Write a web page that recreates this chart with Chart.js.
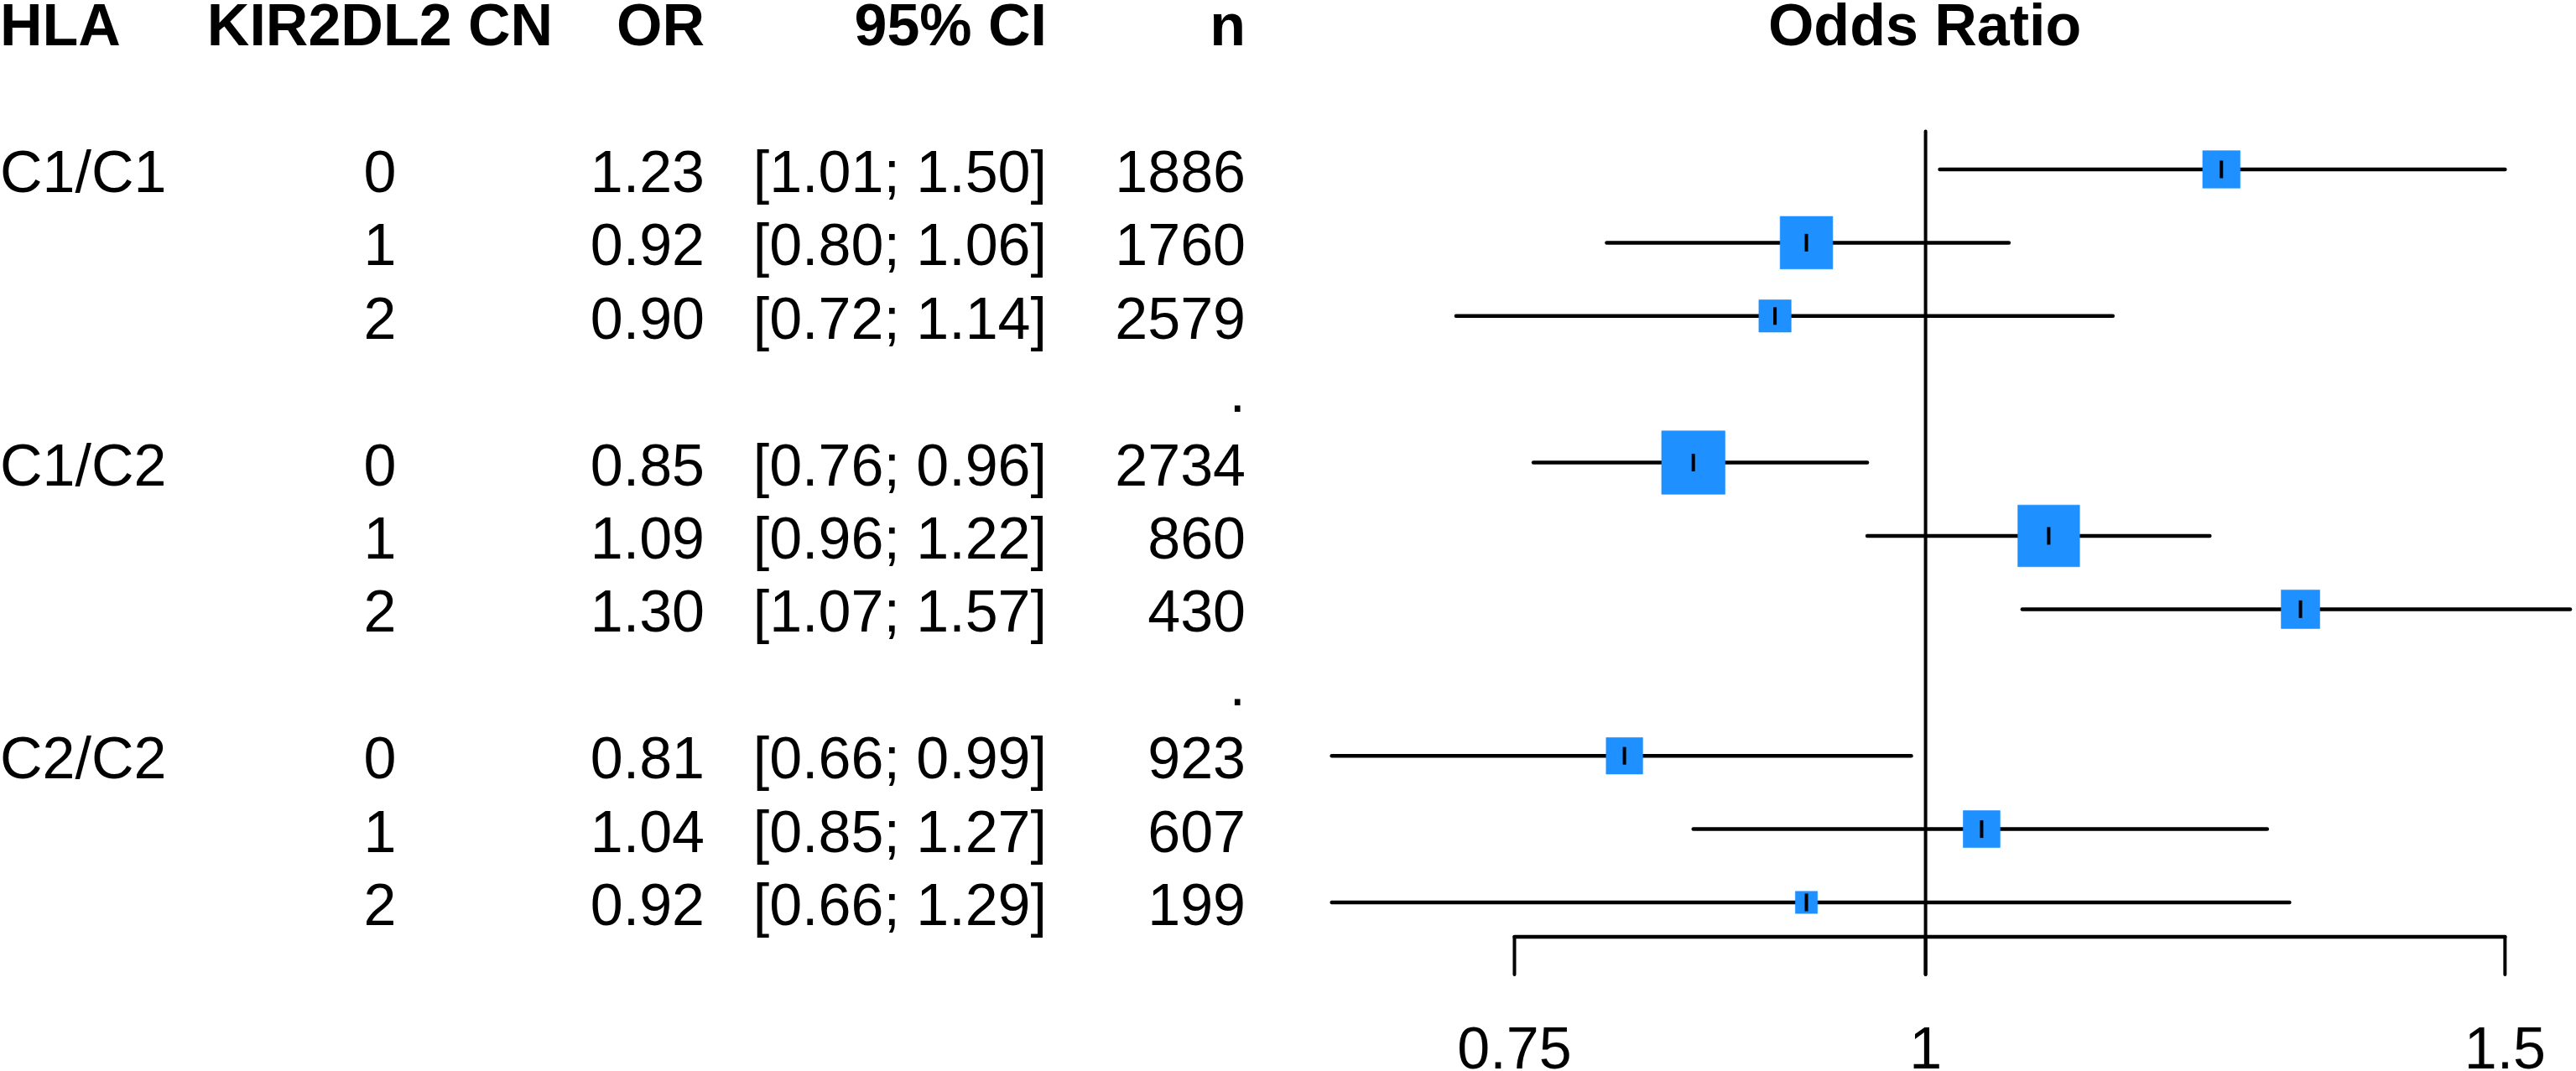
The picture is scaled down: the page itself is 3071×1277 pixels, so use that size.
<!DOCTYPE html>
<html><head><meta charset="utf-8">
<script src="https://cdn.jsdelivr.net/npm/chart.js@4.4.1/dist/chart.umd.min.js"></script>
<style>html,body{margin:0;padding:0;background:#fff;overflow:hidden}canvas{display:block}</style>
</head><body>
<canvas id="c" width="3071" height="1277"></canvas>
<script>
// ---- data ----
const groups = ['C1/C1', 'C1/C2', 'C2/C2'];
const groupOf = [0, 0, 0, 1, 1, 1, 2, 2, 2];
const copyNumbers = ['0', '1', '2', '0', '1', '2', '0', '1', '2'];
const oddsRatio = [1.23, 0.92, 0.90, 0.85, 1.09, 1.30, 0.81, 1.04, 0.92];
const ciLower = [1.01, 0.80, 0.72, 0.76, 0.96, 1.07, 0.66, 0.85, 0.66];
const ciUpper = [1.50, 1.06, 1.14, 0.96, 1.22, 1.57, 0.99, 1.27, 1.29];
const sampleSize = [1886, 1760, 2579, 2734, 860, 430, 923, 607, 199];
const headers = ['HLA', 'KIR2DL2 CN', 'OR', '95% CI', 'n'];
const axisTicks = [0.75, 1, 1.5];
const axisTitle = 'Odds Ratio';
const refValue = 1;

// ---- layout / style ----
const FONT = '"Liberation Sans", Arial, Helvetica, sans-serif';
const BLUE = '#1E90FF';
const rows = [];
{ const cnt = [0, 0, 0]; groupOf.forEach(g => { rows.push(g * 4 + cnt[g]); cnt[g]++; }); }
const sepRows = groups.slice(1).map((_, g) => (g + 1) * 4 - 1);
// box side ~ sqrt(inverse variance)
const boxSide = oddsRatio.map((_, i) => {
  const se = (Math.log(ciUpper[i]) - Math.log(ciLower[i])) / (2 * 1.96);
  return 4.5 * Math.sqrt(1 / (se * se));
});

const Y_AXIS = 10.469, Y_TICK_END = 10.984, Y_REF_TOP = -0.52;

const datasets = [];
// point ticks inside boxes
datasets.push({
  data: oddsRatio.map((v, i) => ({ x: v, y: rows[i] })),
  pointStyle: 'line', rotation: 90, pointRadius: 10.5, borderWidth: 4,
  borderColor: '#000', backgroundColor: '#000', showLine: false, order: 0
});
// boxes
datasets.push({
  data: oddsRatio.map((v, i) => ({ x: v, y: rows[i] })),
  pointStyle: 'rect', pointRadius: boxSide.map(s => s / Math.SQRT2),
  backgroundColor: BLUE, borderColor: 'rgba(30,144,255,0.6)', borderWidth: 1, showLine: false, order: 1
});
// CI lines
oddsRatio.forEach((v, i) => {
  datasets.push({
    data: [{ x: ciLower[i], y: rows[i] }, { x: ciUpper[i], y: rows[i] }],
    showLine: true, borderColor: '#000', borderWidth: 4.5, borderCapStyle: 'round',
    pointRadius: 0, order: 2
  });
});
// reference line
datasets.push({
  data: [{ x: refValue, y: Y_REF_TOP }, { x: refValue, y: Y_TICK_END }],
  showLine: true, borderColor: '#000', borderWidth: 4, borderCapStyle: 'round', pointRadius: 0, order: 3
});
// axis line
datasets.push({
  data: [{ x: axisTicks[0], y: Y_AXIS }, { x: axisTicks[axisTicks.length - 1], y: Y_AXIS }],
  showLine: true, borderColor: '#000', borderWidth: 4.5, borderCapStyle: 'round', borderJoinStyle: 'round',
  pointRadius: 0, order: 3
});
// axis ticks
axisTicks.forEach(t => {
  datasets.push({
    data: [{ x: t, y: Y_AXIS }, { x: t, y: Y_TICK_END }],
    showLine: true, borderColor: '#000', borderWidth: 4, borderCapStyle: 'round', pointRadius: 0, order: 3
  });
});

const tablePlugin = {
  id: 'forestTable',
  afterDatasetsDraw(chart) {
    const ctx = chart.ctx, ys = chart.scales.y, xs = chart.scales.x;
    const base = r => ys.getPixelForValue(r) + 27;
    ctx.save();
    ctx.fillStyle = '#000';
    ctx.textBaseline = 'alphabetic';
    // headers
    ctx.font = 'bold 70px ' + FONT;
    const hy = base(-2);
    ctx.textAlign = 'left'; ctx.fillText(headers[0], 0, hy);
    ctx.textAlign = 'center'; ctx.fillText(headers[1], 453, hy);
    ctx.textAlign = 'right'; ctx.fillText(headers[2], 840, hy);
    ctx.fillText(headers[3], 1248, hy);
    ctx.fillText(headers[4], 1485, hy);
    ctx.textAlign = 'center';
    ctx.fillText(axisTitle, xs.getPixelForValue(refValue) - 1, hy);
    // body
    ctx.font = '70px ' + FONT;
    oddsRatio.forEach((v, i) => {
      const y = base(rows[i]);
      if (i === 0 || groupOf[i] !== groupOf[i - 1]) {
        ctx.textAlign = 'left'; ctx.fillText(groups[groupOf[i]], 0, y);
      }
      ctx.textAlign = 'center'; ctx.fillText(copyNumbers[i], 453, y);
      ctx.textAlign = 'right';
      ctx.fillText(v.toFixed(2), 840, y);
      ctx.fillText('[' + ciLower[i].toFixed(2) + '; ' + ciUpper[i].toFixed(2) + ']', 1248, y);
      ctx.fillText(String(sampleSize[i]), 1485, y);
    });
    sepRows.forEach(r => { ctx.textAlign = 'right'; ctx.fillText('.', 1485, base(r)); });
    // tick labels
    ctx.textAlign = 'center';
    axisTicks.forEach(t => ctx.fillText(String(t), xs.getPixelForValue(t), base(11.96)));
    ctx.restore();
  }
};

new Chart(document.getElementById('c'), {
  type: 'scatter',
  data: { datasets },
  options: {
    responsive: false, animation: false, devicePixelRatio: 1,
    layout: { padding: 0, autoPadding: false },
    plugins: { legend: { display: false }, tooltip: { enabled: false } },
    events: [],
    scales: {
      x: { type: 'logarithmic', min: 0.2599, max: 1.5764, display: false },
      y: { type: 'linear', reverse: true, min: -2.311, max: 12.30, display: false }
    }
  },
  plugins: [tablePlugin]
});
</script>
</body></html>
